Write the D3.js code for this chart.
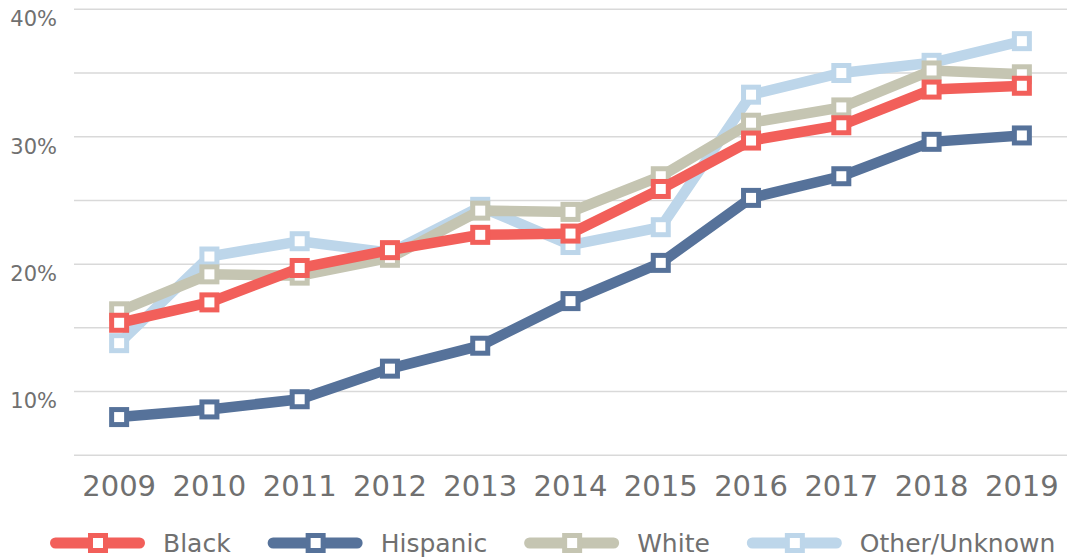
<!DOCTYPE html>
<html>
<head>
<meta charset="utf-8">
<script src="https://cdn.jsdelivr.net/npm/d3@7/dist/d3.min.js"></script>
<style>
  html, body { margin: 0; padding: 0; background: #fff; }
  svg { display: block; }
  text { font-family: "DejaVu Sans", sans-serif; font-weight: 400; fill: #707070; }
</style>
</head>
<body>
<svg id="chart" width="1075" height="558"></svg>
<script>
const years = ["2009","2010","2011","2012","2013","2014","2015","2016","2017","2018","2019"];
const black    = [15.4, 17.0, 19.7, 21.1, 22.3, 22.4, 25.9, 29.7, 30.9, 33.7, 34.0];
const hispanic = [8.0, 8.6, 9.4, 11.8, 13.6, 17.1, 20.1, 25.2, 26.9, 29.6, 30.1];
const white    = [16.3, 19.2, 19.1, 20.5, 24.2, 24.1, 26.9, 31.1, 32.3, 35.2, 34.9];
const other    = [13.8, 20.6, 21.8, 20.9, 24.5, 21.5, 22.9, 33.3, 35.0, 35.8, 37.5];
const seriesNames = ["Black", "Hispanic", "White", "Other/Unknown"];
const seriesColors = ["#F25F5A", "#56729A", "#C5C5B2", "#BDD6EA"];
const gridValues = [5, 10, 15, 20, 25, 30, 35, 40];
const yTickValues = [10, 20, 30, 40];

const series = [
  {name: seriesNames[0], color: seriesColors[0], values: black},
  {name: seriesNames[1], color: seriesColors[1], values: hispanic},
  {name: seriesNames[2], color: seriesColors[2], values: white},
  {name: seriesNames[3], color: seriesColors[3], values: other}
];

const svg = d3.select("#chart");
const mLeft = 74, mRight = 1067, mTop = 9.3, mBottom = 455.3;

const x = d3.scaleBand().domain(years).range([mLeft, mRight]);
const y = d3.scaleLinear().domain([5, 40]).range([mBottom, mTop]);
const cx = d => x(d) + x.bandwidth() / 2;

// gridlines
svg.append("g").selectAll("line").data(gridValues).join("line")
  .attr("x1", mLeft).attr("x2", mRight)
  .attr("y1", d => y(d)).attr("y2", d => y(d))
  .attr("stroke", "#d9d9d9").attr("stroke-width", 1.5);

// y axis labels
const yAxis = d3.axisLeft(y).tickValues(yTickValues).tickSize(0).tickPadding(0)
  .tickFormat(d => d + "%");
const yg = svg.append("g").attr("transform", `translate(57,0)`).call(yAxis);
yg.attr("font-family", null).attr("font-size", null);
yg.select(".domain").remove();
yg.selectAll("text").attr("x", 0).attr("font-size", 21).attr("dy", "0.78em");

// x axis labels
const xAxis = d3.axisBottom(x).tickSize(0).tickPadding(0);
const xg = svg.append("g").attr("transform", `translate(0,${mBottom})`).call(xAxis);
xg.attr("font-family", null).attr("font-size", null);
xg.select(".domain").remove();
xg.selectAll("text").attr("font-size", 29).attr("y", 41).attr("dy", 0);

// lines, drawn bottom to top: Other, White, Hispanic, Black
const drawOrder = [3, 2, 1, 0];
const line = d3.line().x((d, i) => cx(years[i])).y(d => y(d));
const markerSize = 15;
drawOrder.forEach(k => {
  const s = series[k];
  const g = svg.append("g");
  g.append("path").attr("d", line(s.values))
    .attr("fill", "none").attr("stroke", s.color).attr("stroke-width", 10.5)
    .attr("stroke-linejoin", "miter");
  g.selectAll("rect").data(s.values).join("rect")
    .attr("x", (d, i) => cx(years[i]) - markerSize / 2)
    .attr("y", d => y(d) - markerSize / 2)
    .attr("width", markerSize).attr("height", markerSize)
    .attr("fill", "#fff").attr("stroke", s.color).attr("stroke-width", 5);
});

// legend
const legend = svg.append("g").attr("transform", "translate(0,543)");
let lx = 50;
series.forEach(s => {
  const g = legend.append("g").attr("transform", `translate(${lx},0)`);
  g.append("line").attr("x1", 5.5).attr("x2", 89.5).attr("y1", 0).attr("y2", 0)
    .attr("stroke", s.color).attr("stroke-width", 11).attr("stroke-linecap", "round");
  g.append("rect").attr("x", 48 - markerSize / 2).attr("y", -markerSize / 2)
    .attr("width", markerSize).attr("height", markerSize)
    .attr("fill", "#fff").attr("stroke", s.color).attr("stroke-width", 5);
  const t = g.append("text").attr("x", 113).attr("y", 0).attr("dy", "0.365em")
    .attr("font-size", 25).text(s.name);
  const w = t.node().getComputedTextLength();
  lx += 113 + w + 37;
});
</script>
</body>
</html>
